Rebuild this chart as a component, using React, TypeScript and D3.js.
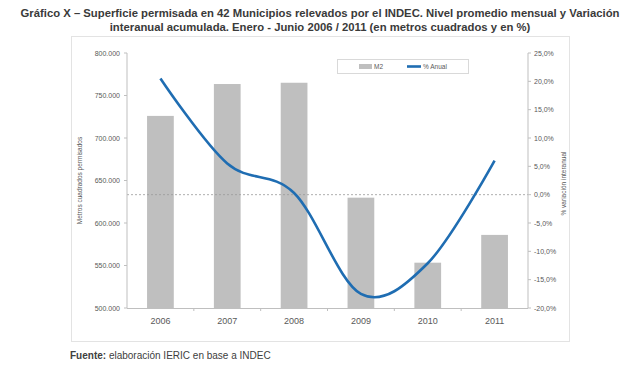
import React from 'react';
import * as d3 from 'd3';

// values
const years = ['2006', '2007', '2008', '2009', '2010', '2011'];
const m2Values = [726000, 763500, 765000, 629800, 553300, 586000];
const pctValues = [20.5, 5.5, 0.3, -17.5, -12.1, 6.0];
const leftTicks = [500000, 550000, 600000, 650000, 700000, 750000, 800000];
const rightTicks = [-20, -15, -10, -5, 0, 5, 10, 15, 20, 25];

const W = 640;
const H = 367;
const FONT = '"Liberation Sans", Arial, sans-serif';

const locale = d3.formatLocale({
  decimal: ',',
  thousands: '.',
  grouping: [3],
  currency: ['$', ''],
  minus: '-',
});
const fmtLeft = locale.format(',d');
const fmtRight = (v: number) => locale.format('.1f')(v) + '%';

const App: React.FC = () => {
  const plot = { left: 127, right: 528, top: 53, bottom: 308 };

  const x = d3
    .scaleBand<string>()
    .domain(years)
    .range([plot.left, plot.right])
    .paddingInner(0.6)
    .paddingOuter(0.3);

  const band = d3.scaleBand<string>().domain(years).range([plot.left, plot.right]);

  const yL = d3.scaleLinear().domain([500000, 800000]).range([plot.bottom, plot.top]);
  const yR = d3.scaleLinear().domain([-20, 25]).range([plot.bottom, plot.top]);

  const line = d3
    .line<number>()
    .x((_, i) => (band(years[i]) as number) + band.bandwidth() / 2)
    .y(d => yR(d))
    .curve(d3.curveCatmullRom.alpha(0));

  const axisColor = '#bfbfbf';
  const textColor = '#595959';
  const blue = '#1f6db2';

  return (
    <svg
      width={W}
      height={H}
      style={{ position: 'absolute', left: 0, top: 0, background: '#fff', fontFamily: FONT }}
    >
      {/* Title */}
      <text x={W / 2} y={17} textAnchor="middle" fontSize={11.3} fontWeight="bold" fill="#3a3a3a">
        Gráfico X – Superficie permisada en 42 Municipios relevados por el INDEC. Nivel promedio mensual y Variación
      </text>
      <text x={W / 2} y={31} textAnchor="middle" fontSize={11.3} fontWeight="bold" fill="#3a3a3a">
        interanual acumulada. Enero - Junio 2006 / 2011 (en metros cuadrados y en %)
      </text>

      {/* chart frame */}
      <rect x={71.5} y={36.5} width={498} height={305} fill="#fff" stroke="#e3e3e3" />

      {/* bars */}
      {m2Values.map((v, i) => (
        <rect
          key={years[i]}
          x={x(years[i])}
          y={yL(v)}
          width={x.bandwidth()}
          height={plot.bottom - yL(v)}
          fill="#bfbfbf"
        />
      ))}

      {/* zero line */}
      <line
        x1={plot.left}
        x2={plot.right}
        y1={yR(0)}
        y2={yR(0)}
        stroke="#9a9a9a"
        strokeWidth={0.8}
        strokeDasharray="2,2"
      />

      {/* axes */}
      <line x1={plot.left} x2={plot.left} y1={plot.top} y2={plot.bottom} stroke={axisColor} />
      <line x1={plot.right} x2={plot.right} y1={plot.top} y2={plot.bottom} stroke={axisColor} />
      <line x1={plot.left} x2={plot.right} y1={plot.bottom + 0.5} y2={plot.bottom + 0.5} stroke={axisColor} />

      {leftTicks.map(t => (
        <g key={t}>
          <line x1={plot.left - 3} x2={plot.left} y1={yL(t)} y2={yL(t)} stroke={axisColor} />
          <text x={plot.left - 7} y={yL(t) + 2.5} textAnchor="end" fontSize={7} fill={textColor}>
            {fmtLeft(t)}
          </text>
        </g>
      ))}

      {rightTicks.map(t => (
        <g key={t}>
          <line x1={plot.right} x2={plot.right + 3} y1={yR(t)} y2={yR(t)} stroke={axisColor} />
          <text x={plot.right + 6} y={yR(t) + 2.5} textAnchor="start" fontSize={7} fill={textColor}>
            {fmtRight(t)}
          </text>
        </g>
      ))}

      {years.slice(1).map(y => (
        <line
          key={y}
          x1={band(y)}
          x2={band(y)}
          y1={plot.bottom}
          y2={plot.bottom + 3}
          stroke={axisColor}
        />
      ))}

      {years.map(y => (
        <text
          key={y}
          x={(x(y) as number) + x.bandwidth() / 2}
          y={324}
          textAnchor="middle"
          fontSize={9}
          fill={textColor}
        >
          {y}
        </text>
      ))}

      {/* axis titles */}
      <text
        transform={`translate(82,${(plot.top + plot.bottom) / 2}) rotate(-90)`}
        textAnchor="middle"
        fontSize={6.5}
        fill={textColor}
      >
        Metros cuadrados permisados
      </text>
      <text
        transform={`translate(566,${(plot.top + plot.bottom) / 2 + 3}) rotate(-90)`}
        textAnchor="middle"
        fontSize={6.5}
        fill={textColor}
      >
        % variación interanual
      </text>

      {/* line series */}
      <path d={line(pctValues) || ''} fill="none" stroke={blue} strokeWidth={2.6} />

      {/* legend */}
      <rect x={337.5} y={59.5} width={131} height={14} fill="#fff" stroke="#d9d9d9" />
      <rect x={359} y={64} width={13} height={5} fill="#bfbfbf" />
      <text x={374} y={69} fontSize={6.5} fill={textColor}>
        M2
      </text>
      <line x1={407} x2={421} y1={66.5} y2={66.5} stroke={blue} strokeWidth={2.6} />
      <text x={423} y={69} fontSize={6.5} fill={textColor}>
        % Anual
      </text>

      {/* source */}
      <text x={70} y={359} fontSize={10} fill="#404040">
        <tspan fontWeight="bold">Fuente:</tspan>
        <tspan> elaboración IERIC en base a INDEC</tspan>
      </text>
    </svg>
  );
};

export default App;
